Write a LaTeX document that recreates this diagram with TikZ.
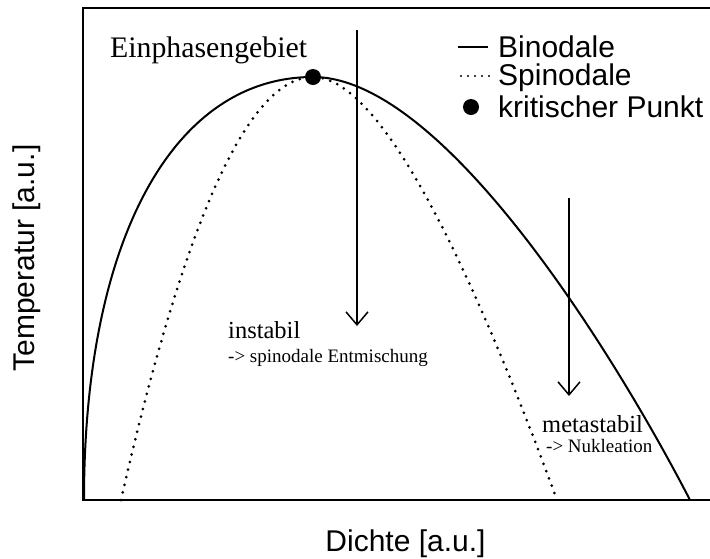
\documentclass[tikz,border=0pt]{standalone}
\usepackage{fontspec}
\setmainfont{Liberation Serif}
\setsansfont{Liberation Sans}
\usetikzlibrary{arrows.meta}
\begin{document}
\begin{tikzpicture}[x=1pt,y=-1pt,
  frame/.style={line width=2pt},
  bino/.style={line width=2pt},
  spino/.style={line width=3pt,line cap=round,dash pattern=on 0pt off 7.8pt},
  quench/.style={line width=1.5pt,-{Straight Barb[length=13pt,width=22pt,line width=1.5pt]}},
  big/.style={font=\sffamily\fontsize{30}{30}\selectfont,inner sep=0pt},
  serifbig/.style={font=\rmfamily\fontsize{29.8}{30}\selectfont,inner sep=0pt},
  serifmid/.style={font=\rmfamily\fontsize{24.5}{25}\selectfont,inner sep=0pt},
  serifsmall/.style={font=\rmfamily\fontsize{19}{20}\selectfont,inner sep=0pt},
  dotmark/.style={circle,fill=black,inner sep=0pt,minimum size=16pt}]
\useasboundingbox (0,0) rectangle (710,558);
% frame
\draw[frame] (712,8) -- (83,8) -- (83,500) -- (712,500);
% binodale
\coordinate (bl) at (84,500);
\coordinate (bt) at (313,77);
\coordinate (br) at (690,500);
\draw[bino] (bl) .. controls (84,240) and (173,77) .. (bt)
            .. controls (443,77) and (614,353) .. (br);
% spinodale
\draw[spino] plot[domain=-1:1,samples=121,variable=\s]
  ({313+(\s<0)*192*\s+(\s>=0)*(177*\s+67*\s*\s)},{77+423*\s*\s});
% critical point
\node[dotmark] (kp) at (bt) {};
% quench arrows
\coordinate (a1s) at (357,30);
\coordinate (a1e) at (357,326);
\coordinate (a2s) at (569,198);
\coordinate (a2e) at (569,396);
\draw[quench] (a1s) -- (a1e);
\draw[quench] (a2s) -- (a2e);
% legend
\coordinate (l1a) at (458,47);
\coordinate (l1b) at (488,47);
\draw[bino] (l1a) -- (l1b);
\node[big,anchor=base west] (tb) at (498,57) {Binodale};
\coordinate (l2a) at (461,76);
\coordinate (l2b) at (490,76);
\draw[spino,line width=2.2pt,dash pattern=on 0pt off 7pt] (l2a) -- (l2b);
\node[big,anchor=base west] (ts) at (498,85.5) {Spinodale};
\node[dotmark] (ld) at (471,107) {};
\node[big,anchor=base west] (tk) at (498,117.5) {kritischer Punkt};
% texts
\node[serifbig,anchor=base west] (ein) at (110,57) {Einphasengebiet};
\node[serifmid,anchor=base west] (ins) at (228,338) {instabil};
\node[serifsmall,anchor=base west] (ins2) at (228,362) {-> spinodale Entmischung};
\node[serifmid,anchor=base west] (met) at (542,432) {metastabil};
\node[serifsmall,anchor=base west] (met2) at (546,452) {-> Nukleation};
% axis labels
\node[big,anchor=base] (xl) at (405.5,551) {Dichte [a.u.]};
\node[big,rotate=90] (yl) at (27,258) {Temperatur [a.u.]};
\end{tikzpicture}
\end{document}
